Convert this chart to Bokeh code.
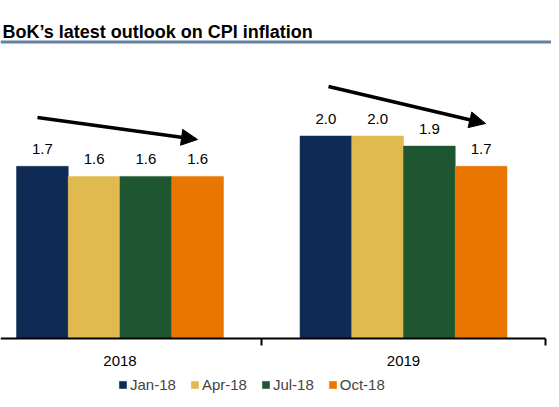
from bokeh.plotting import figure
from bokeh.models import (ColumnDataSource, FixedTicker, Range1d, Label, LabelSet,
                          Arrow, NormalHead, Legend, LegendItem, Span)
from bokeh.core.properties import value
from bokeh.transform import dodge
from bokeh.embed import file_html
from bokeh.resources import INLINE

# ---------------- data ----------------
years = ["2018", "2019"]
series = ["Jan-18", "Apr-18", "Jul-18", "Oct-18"]
jan18 = [1.7, 2.0]
apr18 = [1.6, 2.0]
jul18 = [1.6, 1.9]
oct18 = [1.6, 1.7]
colors = ["#0f2b55", "#e0b94f", "#1e5631", "#e87600"]
title_text = "BoK\u2019s latest outlook on CPI inflation"

values = [jan18, apr18, jul18, oct18]
xpos = list(range(len(years)))

# ---------------- geometry ----------------
W, H = 551, 399
BASE = 337.5          # canvas y of the zero line
PXX = 283.5           # pixels per category
PXY = 101.0           # pixels per unit
X0 = -119.5 / PXX
X1 = X0 + W / PXX
Y0 = (BASE - H) / PXY
Y1 = BASE / PXY

def cx(px):  # canvas x -> data x
    return X0 + px / PXX

def cy(py):  # canvas y -> data y
    return (BASE - py) / PXY

p = figure(width=W, height=H, output_backend="svg", toolbar_location=None,
           x_range=Range1d(X0, X1), y_range=Range1d(Y0, Y1),
           min_border_left=0, min_border_right=0,
           min_border_top=0, min_border_bottom=0)
p.outline_line_color = None
p.grid.visible = False
p.yaxis.visible = False
p.background_fill_color = "white"
p.border_fill_color = "white"

bw = 0.1825
src_data = {"x": xpos}
for s, v in zip(series, values):
    src_data[s] = v
    src_data[s + "_lbl"] = ["%.1f" % a for a in v]
src = ColumnDataSource(src_data)

FONT = "Liberation Sans"
FS = "15px"
items = []
for i, (s, c) in enumerate(zip(series, colors)):
    off = (i - 1.5) * bw
    r = p.vbar(x=dodge("x", off, range=p.x_range), top=s, width=bw, bottom=0,
               source=src, fill_color=c, line_color=c, line_width=0.5)
    items.append(LegendItem(label=s, renderers=[r]))
    lbl = LabelSet(x=dodge("x", off, range=p.x_range), y=s, text=s + "_lbl",
                   source=src, text_align="center", text_baseline="bottom",
                   y_offset=12, text_font=value(FONT), text_font_size=value(FS),
                   text_color=value("#000000"))
    p.add_layout(lbl)

# x axis, drawn at zero inside the frame
ax = p.xaxis[0]
ax.fixed_location = 0
ax.bounds = (X0, len(years) - 0.5)
ax.ticker = FixedTicker(ticks=xpos, minor_ticks=[x + 0.5 for x in xpos])
ax.major_label_overrides = {x: y for x, y in zip(xpos, years)}
ax.major_tick_line_color = None
ax.major_tick_out = 0
ax.major_tick_in = 0
ax.minor_tick_line_color = "black"
ax.minor_tick_line_width = 2
ax.minor_tick_out = 7
ax.minor_tick_in = 0
ax.axis_line_color = "black"
ax.axis_line_width = 2
ax.major_label_standoff = 11
ax.major_label_text_font = FONT
ax.major_label_text_font_size = FS
ax.major_label_text_color = "#000000"

# legend
leg = Legend(items=items, orientation="horizontal", location=(118, 6),
             glyph_width=9, glyph_height=9, label_standoff=3, spacing=14,
             padding=0, margin=0, label_text_font=FONT, label_text_font_size=FS,
             label_height=16, border_line_color=None, background_fill_alpha=0)
p.add_layout(leg)

# trend arrows (annotation)
arrows = [((37, 117), (197, 139)), ((328, 86), (485, 123))]
for (sx, sy), (ex, ey) in arrows:
    p.add_layout(Arrow(x_start=cx(sx), y_start=cy(sy),
                       x_end=cx(ex), y_end=cy(ey),
                       line_width=3.5, line_color="black",
                       end=NormalHead(size=16, fill_color="black", line_color="black")))

# title and rule
p.add_layout(Label(x=cx(2), y=cy(31), text=title_text, text_baseline="middle",
                   text_font="Liberation Sans", text_font_style="bold",
                   text_font_size="18px", text_color="#000000"))
p.add_layout(Span(location=cy(41.5), dimension="width",
                  line_width=3, line_color="#6580a0"))

open("out.html", "w").write(file_html(p, INLINE))
